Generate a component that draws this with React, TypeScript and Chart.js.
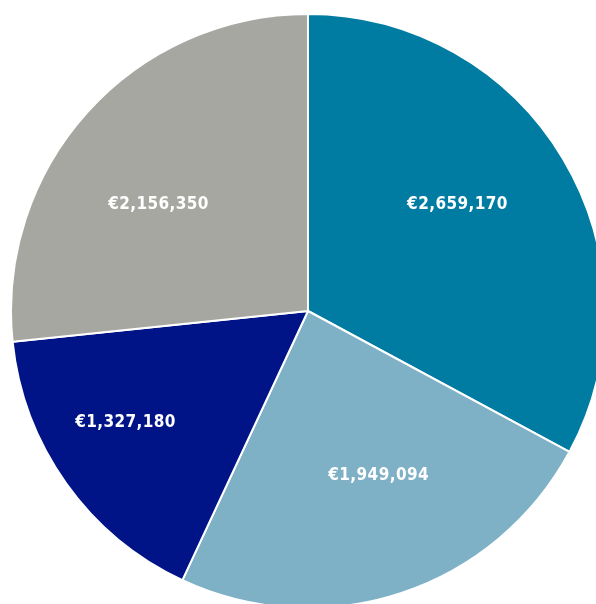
import React, { useEffect, useRef } from "react";
import { Chart, registerables } from "chart.js";

Chart.register(...registerables);

const categories = ["A", "B", "C", "D"];
const values = [2659170, 1949094, 1327180, 2156350];
const labelsText = ["€2,659,170", "€1,949,094", "€1,327,180", "€2,156,350"];
const colors = ["#007ca3", "#7eb0c6", "#001487", "#a7a7a2"];
const labelRadius = [0.621, 0.598, 0.718, 0.62];
const labelAngleShift = [-5.0, -5.1, 4.3, -6.3];

const labelPlugin = {
  id: "sliceLabels",
  afterDatasetsDraw(chart: any) {
    const ctx = chart.ctx;
    const meta = chart.getDatasetMeta(0);
    ctx.save();
    ctx.fillStyle = "#ffffff";
    ctx.font = "bold 17px 'DejaVu Sans Condensed', 'DejaVu Sans', sans-serif";
    try {
      (ctx as any).letterSpacing = "0.4px";
    } catch (e) {}
    ctx.textAlign = "center";
    ctx.textBaseline = "middle";
    meta.data.forEach((arc: any, i: number) => {
      const p = arc.getProps(["x", "y", "startAngle", "endAngle", "outerRadius"], true);
      const mid = (p.startAngle + p.endAngle) / 2 + (labelAngleShift[i] * Math.PI) / 180;
      const r = p.outerRadius * labelRadius[i];
      ctx.fillText(labelsText[i], p.x + Math.cos(mid) * r, p.y + Math.sin(mid) * r + 1.5);
    });
    ctx.restore();
  },
};

export default function App() {
  const ref = useRef<HTMLCanvasElement>(null);
  useEffect(() => {
    const chart = new Chart(ref.current!, {
      type: "pie",
      data: {
        labels: categories,
        datasets: [
          {
            data: values,
            backgroundColor: colors,
            borderColor: "#ffffff",
            borderWidth: 2,
          },
        ],
      },
      options: {
        responsive: false,
        animation: false,
        layout: { padding: 2 },
        plugins: {
          legend: { display: false },
          tooltip: { enabled: false },
        },
      },
      plugins: [labelPlugin],
    });
    return () => chart.destroy();
  }, []);
  return (
    <div
      style={{
        position: "fixed",
        left: 0,
        top: 0,
        width: 596,
        height: 604,
        overflow: "hidden",
        background: "#ffffff",
      }}
    >
      <canvas
        ref={ref}
        width={600}
        height={606}
        style={{ position: "absolute", left: 8, top: 8, width: 600, height: 606 }}
      />
    </div>
  );
}
